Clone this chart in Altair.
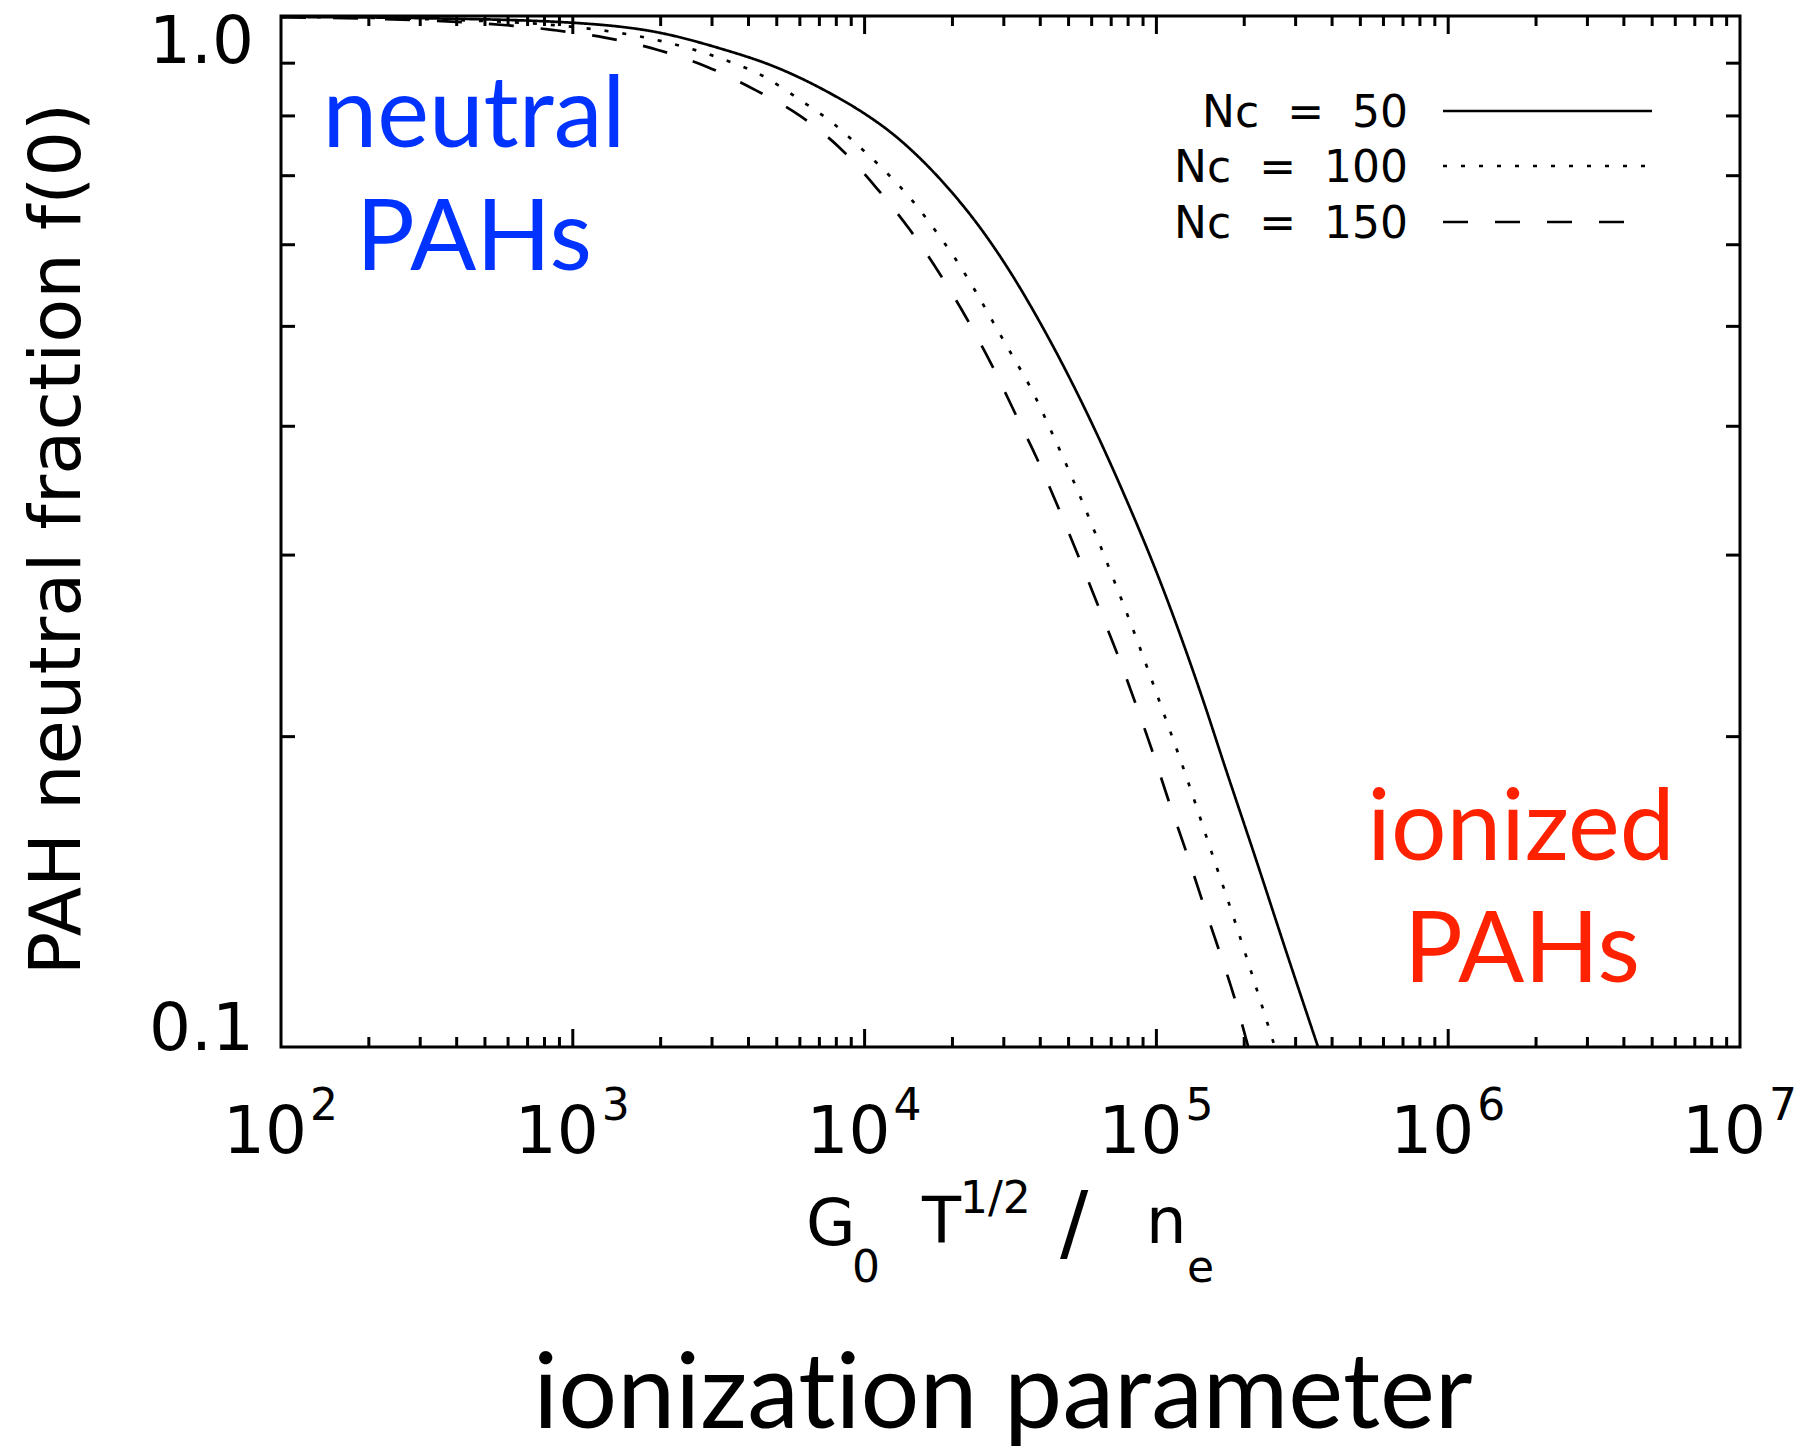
import altair as alt
import pandas as pd

# Ionization parameter G0 T^1/2 / ne and PAH neutral fraction f(0) per carbon number
ion_50 = [1.0e2, 3.162e2, 1.0e3, 1.995e3, 3.162e3, 5.012e3, 7.943e3, 1.0e4, 1.259e4,
          1.585e4, 1.995e4, 2.512e4, 3.162e4, 3.981e4, 5.012e4, 6.31e4, 7.943e4,
          1.0e5, 1.445e5, 1.718e5, 2.178e5, 2.805e5, 3.581e5]
frac_50 = [0.998, 0.995, 0.985, 0.963, 0.931, 0.891, 0.836, 0.804, 0.767,
           0.723, 0.674, 0.621, 0.564, 0.505, 0.447, 0.391, 0.338,
           0.289, 0.217, 0.187, 0.153, 0.123, 0.100]

ion_100 = [1.0e2, 3.162e2, 1.0e3, 1.995e3, 3.162e3, 4.467e3, 6.012e3, 7.798e3, 9.638e3,
           1.194e4, 1.452e4, 1.742e4, 2.042e4, 2.388e4, 2.754e4, 3.199e4, 3.69e4,
           4.426e4, 5.598e4, 6.934e4, 8.59e4, 1.045e5, 1.274e5, 1.528e5, 1.832e5,
           2.213e5, 2.547e5]
frac_100 = [0.998, 0.993, 0.976, 0.946, 0.911, 0.875, 0.829, 0.787, 0.746,
            0.704, 0.663, 0.620, 0.582, 0.542, 0.505, 0.469, 0.437,
            0.392, 0.337, 0.290, 0.248, 0.213, 0.182, 0.156, 0.134,
            0.1135, 0.100]

ion_150 = [1.0e2, 3.162e2, 8.63e2, 1.288e3, 1.959e3, 2.904e3, 4.276e3, 6.012e3, 8.26e3,
           1.099e4, 1.432e4, 1.811e4, 2.228e4, 2.735e4, 3.304e4, 3.899e4, 4.603e4,
           5.383e4, 6.31e4, 7.328e4, 8.453e4, 9.661e4, 1.104e5, 1.262e5, 1.432e5,
           1.641e5, 1.845e5, 2.065e5]
frac_150 = [0.997, 0.990, 0.969, 0.953, 0.927, 0.892, 0.846, 0.800, 0.744,
            0.681, 0.620, 0.562, 0.510, 0.458, 0.410, 0.372, 0.334,
            0.300, 0.268, 0.241, 0.216, 0.194, 0.173, 0.155, 0.139,
            0.124, 0.112, 0.100]

series_names = ["Nc = 50", "Nc = 100", "Nc = 150"]
NB = "\u00a0"
legend_labels = [f"Nc{NB}{NB}={NB}{NB}50", f"Nc{NB}{NB}={NB}{NB}100", f"Nc{NB}{NB}={NB}{NB}150"]

# Axis ticks and labels
x_major = [1e3, 1e4, 1e5, 1e6]
x_decades = [1e2, 1e3, 1e4, 1e5, 1e6]
x_mult = [2, 3, 4, 5, 6, 7, 8, 9]
x_label_vals = [1e2, 1e3, 1e4, 1e5, 1e6, 1e7]
x_label_exp = ["2", "3", "4", "5", "6", "7"]
y_minor = [0.2, 0.3, 0.4, 0.5, 0.6, 0.7, 0.8, 0.9]

W, H = 1459, 1031
HERSHEY = "DejaVu Sans"
GILL = "Lato"

rows = []
for name, xs, fs in [(series_names[0], ion_50, frac_50),
                     (series_names[1], ion_100, frac_100),
                     (series_names[2], ion_150, frac_150)]:
    for xv, fv in zip(xs, fs):
        rows.append({"ion": xv, "frac": fv, "series": name})
curves = pd.DataFrame(rows)

xscale = alt.Scale(type="log", domain=[1e2, 1e7])
yscale = alt.Scale(type="log", domain=[0.1, 1.0])

lines = alt.Chart(curves).mark_line(
    color="black", strokeWidth=2.7, interpolate="monotone"
).encode(
    x=alt.X("ion:Q", scale=xscale, axis=None),
    y=alt.Y("frac:Q", scale=yscale, axis=None),
    strokeDash=alt.StrokeDash(
        "series:N",
        scale=alt.Scale(domain=series_names, range=[[1, 0], [4, 14], [25, 27]]),
        legend=None,
    ),
    detail="series:N",
    order="ion:Q",
)

minor_df = pd.DataFrame({"t": [m * d for d in x_decades for m in x_mult]})
major_df = pd.DataFrame({"t": x_major})
ymin_df = pd.DataFrame({"v": y_minor})


def xticks(df, length):
    base = alt.Chart(df).mark_rule(color="black", strokeWidth=3)
    xenc = alt.X("t:Q", scale=xscale, axis=None)
    bottom = base.encode(x=xenc, y=alt.value(H), y2=alt.value(H - length))
    top = base.encode(x=xenc, y=alt.value(0), y2=alt.value(length))
    return [bottom, top]


yenc = alt.Y("v:Q", scale=yscale, axis=None)
yt_base = alt.Chart(ymin_df).mark_rule(color="black", strokeWidth=3)
yticks = [
    yt_base.encode(y=yenc, x=alt.value(0), x2=alt.value(14)),
    yt_base.encode(y=yenc, x=alt.value(W), x2=alt.value(W - 14)),
]

# x tick labels: mantissa "10" plus raised exponent
xlab_df = pd.DataFrame({"t": x_label_vals, "m": ["10"] * 6, "e": x_label_exp})
xlab_main = alt.Chart(xlab_df).mark_text(
    font=HERSHEY, fontSize=66, align="center", baseline="alphabetic", dx=-16, color="black"
).encode(x=alt.X("t:Q", scale=xscale, axis=None), y=alt.value(1137), text="m:N")
xlab_exp = alt.Chart(xlab_df).mark_text(
    font=HERSHEY, fontSize=44, align="left", baseline="alphabetic", dx=29, color="black"
).encode(x=alt.X("t:Q", scale=xscale, axis=None), y=alt.value(1104), text="e:N")

# y tick labels
ylab_df = pd.DataFrame({"v": [0.1, 1.0], "s": ["0.1", "1.0"]})
ylab_top = alt.Chart(ylab_df).transform_filter("datum.v == 1").mark_text(
    font=HERSHEY, fontSize=66, align="right", baseline="alphabetic", dy=47, color="black"
).encode(y=yenc, x=alt.value(-27), text="s:N")
ylab_bot = alt.Chart(ylab_df).transform_filter("datum.v < 0.5").mark_text(
    font=HERSHEY, fontSize=66, align="right", baseline="alphabetic", dy=3, color="black"
).encode(y=yenc, x=alt.value(-27), text="s:N")


def label(txt, x, y, size, font, color="black", align="left", angle=0, weight="normal"):
    return alt.Chart(pd.DataFrame({"label": [txt]})).mark_text(
        font=font, fontSize=size, align=align, baseline="alphabetic",
        angle=angle, color=color, fontWeight=weight,
    ).encode(x=alt.value(x), y=alt.value(y), text="label:N")


texts = [
    # y-axis title
    label("PAH neutral fraction f(0)", -201, 523, 72, HERSHEY, align="center", angle=270),
    # x-axis title: G0 T^1/2 / ne
    label("G", 525, 1229, 64, HERSHEY),
    label("0", 571, 1266, 44, HERSHEY),
    label("T", 641, 1227, 64, HERSHEY),
    label("1/2", 679, 1197, 44, HERSHEY),
    label("/", 779, 1235, 84, HERSHEY),
    label("n", 865, 1227, 64, HERSHEY),
    label("e", 906, 1266, 44, HERSHEY),
    # region annotations
    label("neutral", 193, 131, 98, GILL, color="#0033FF", align="center"),
    label("PAHs", 193, 254, 98, GILL, color="#0033FF", align="center"),
    label("ionized", 1240, 844, 98, GILL, color="#FF2200", align="center"),
    label("PAHs", 1241, 966, 98, GILL, color="#FF2200", align="center"),
    # zero-width non-joiner keeps "t" and "i" as separate glyphs
    label("ionizat\u200cion parameter", 722, 1412, 104, GILL, align="center"),
]

# legend
leg_y = [95, 150, 206]
leg_dash = [[1, 0], [4, 14], [25, 27]]
leg_end = [1371, 1371, 1345]
legend = []
for lab, yy, dash, xe in zip(legend_labels, leg_y, leg_dash, leg_end):
    legend.append(label(lab, 1127, yy + 16, 44, HERSHEY, align="right"))
    legend.append(
        alt.Chart(pd.DataFrame({"label": [lab]})).mark_rule(
            color="black", strokeWidth=2.7, strokeDash=dash
        ).encode(x=alt.value(1162), x2=alt.value(xe), y=alt.value(yy))
    )

chart = alt.layer(
    lines,
    *xticks(minor_df, 10),
    *xticks(major_df, 18),
    *yticks,
    xlab_main, xlab_exp, ylab_top, ylab_bot,
    *texts,
    *legend,
).properties(
    width=W,
    height=H,
    autosize=alt.AutoSizeParams(type="none"),
    padding={"left": 281, "top": 16, "right": 58, "bottom": 404},
    background="white",
).configure_view(stroke="black", strokeWidth=3)

chart.save("out.html", embed_options={"renderer": "svg", "actions": False})
